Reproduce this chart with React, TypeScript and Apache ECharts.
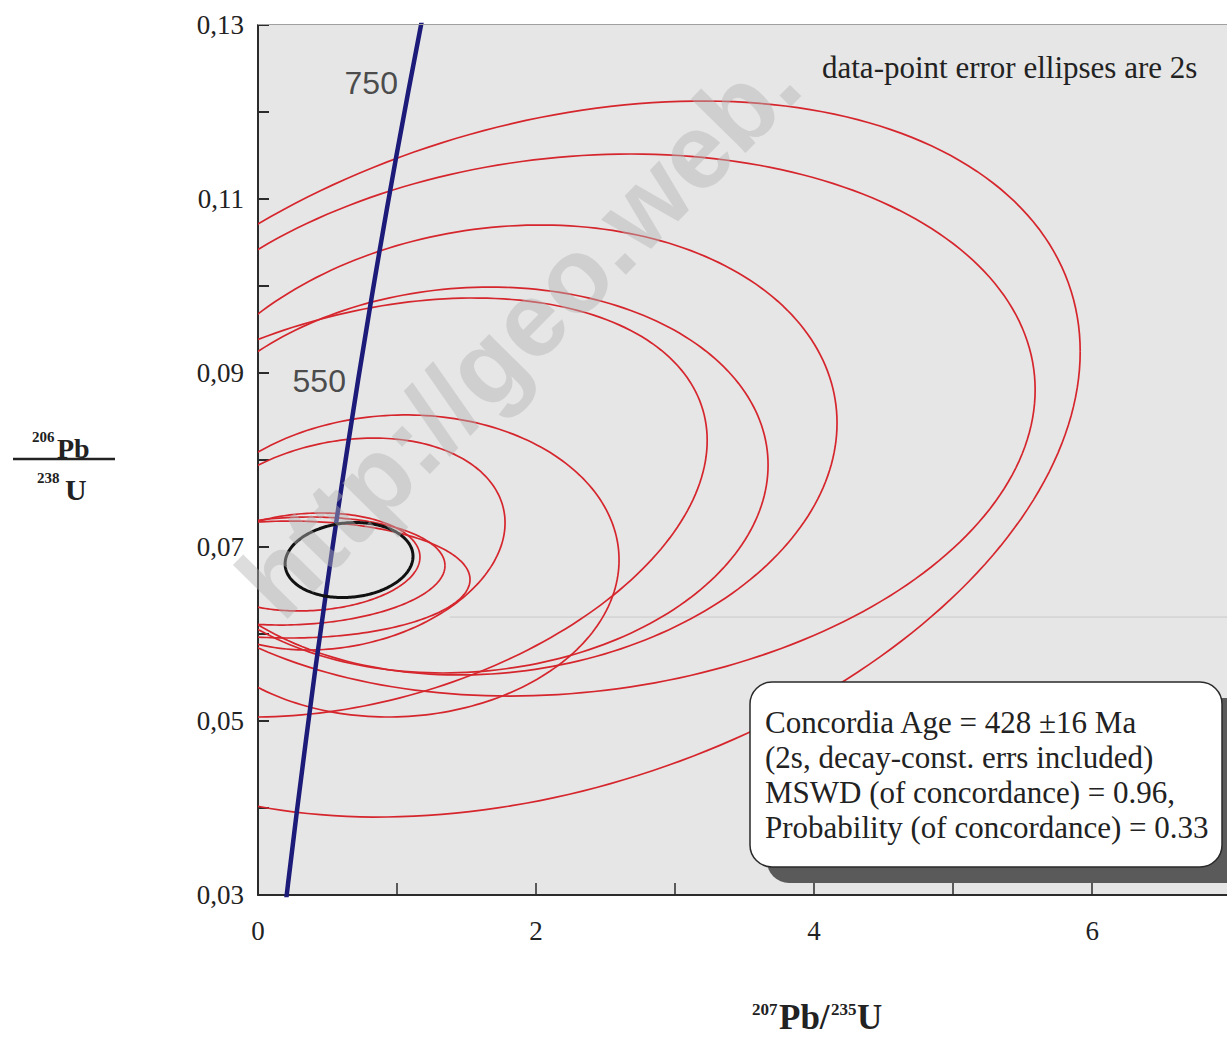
import React, { useEffect, useRef } from 'react';
import * as echarts from 'echarts';

// Concordia curve (Wetherill), points read at ages in Ma
const concordiaAgesMa = [150, 200, 300, 400, 500, 600, 700, 800];
const concordiaX = [0.1592, 0.2177, 0.34375, 0.4828, 0.63627, 0.80563, 0.99251, 1.19875];
const concordiaY = [0.023542, 0.031511, 0.047637, 0.064016, 0.08065, 0.097544, 0.114702, 0.132129];

// Age labels on the concordia
const ageLabels = ['550', '750'];
const ageLabelX = [0.71887, 1.09308];
const ageLabelY = [0.089064, 0.123382];

// Data-point error ellipses: [207Pb/235U, 206Pb/238U, half-width, half-height, rho]
const redEllipses = [
  [2.029, 0.08011, 3.885, 0.04115, 0.3],
  [2.245, 0.08402, 3.345, 0.03115, 0.13],
  [1.741, 0.08115, 2.424, 0.02586, 0.12],
  [1.5, 0.0777, 2.169, 0.02218, 0.078],
  [0.763, 0.07454, 2.468, 0.02408, 0.32],
  [1.0, 0.06782, 1.597, 0.01736, 0.04],
  [0.597, 0.07034, 1.18, 0.01218, 0.2],
  [0.374, 0.06828, 0.791, 0.00563, 0.1],
  [0.266, 0.06724, 1.079, 0.00621, 0.1],
  [0.23, 0.06626, 1.295, 0.00672, 0.0],
];
// Concordia age ellipse
const concordiaEllipse = [[0.655, 0.0685, 0.46, 0.00431, 0.1]];

// faint horizontal line in the figure
const faintLineX = [1.38, 6.97];
const faintLineY = [0.06195, 0.06195];

const yTickLabels = ['0,03', '0,05', '0,07', '0,09', '0,11', '0,13'];
const xTickLabels = ['0', '2', '4', '6'];

const statLines = [
  'Concordia Age = 428 \u00b116 Ma',
  '(2s, decay-const. errs included)',
  'MSWD (of concordance) = 0.96,',
  'Probability (of concordance) = 0.33',
];
const noteText = 'data-point error ellipses are 2s';
const watermarkText = 'http://geo.web.';

const SERIF = "'Liberation Serif', 'Times New Roman', serif";
const SANS = "'Liberation Sans', Arial, sans-serif";

const makeEllipseRenderer = (color: string, width: number) => (params: any, api: any) => {
  const cx = api.value(0);
  const cy = api.value(1);
  const sx = api.value(2);
  const sy = api.value(3);
  const rho = api.value(4);
  const q = Math.sqrt(1 - rho * rho);
  const points: number[][] = [];
  const n = 240;
  for (let i = 0; i <= n; i++) {
    const t = (i / n) * Math.PI * 2;
    points.push(api.coord([cx + sx * Math.cos(t), cy + sy * (rho * Math.cos(t) + q * Math.sin(t))]));
  }
  return {
    type: 'polyline',
    shape: { points },
    style: { stroke: color, lineWidth: width, fill: 'none' },
  };
};

export default function App() {
  const ref = useRef<HTMLDivElement>(null);
  useEffect(() => {
    const chart = echarts.init(ref.current as HTMLDivElement, undefined, { renderer: 'svg' });
    const option: any = {
      animation: false,
      backgroundColor: '#ffffff',
      grid: {
        left: 258,
        right: 0,
        top: 25,
        bottom: 144,
        show: true,
        backgroundColor: '#e6e6e6',
        borderWidth: 0,
      },
      xAxis: {
        type: 'value',
        min: 0,
        max: 6.97,
        interval: 1,
        axisLine: { show: true, onZero: false, lineStyle: { color: '#2b2b2b', width: 2 } },
        axisTick: { show: true, inside: true, length: 12, lineStyle: { color: '#2b2b2b', width: 1.5 } },
        splitLine: { show: false },
        axisLabel: {
          margin: 22,
          fontSize: 27,
          fontFamily: SERIF,
          color: '#222',
          showMaxLabel: false,
          formatter: (v: number) => (xTickLabels.includes(String(v)) ? String(v) : ''),
        },
      },
      yAxis: {
        type: 'value',
        min: 0.03,
        max: 0.13,
        interval: 0.01,
        axisLine: { show: true, onZero: false, lineStyle: { color: '#2b2b2b', width: 2 } },
        axisTick: { show: true, inside: true, length: 11, lineStyle: { color: '#2b2b2b', width: 2 } },
        splitLine: { show: false },
        axisLabel: {
          margin: 14,
          fontSize: 27,
          fontFamily: SERIF,
          color: '#222',
          formatter: (v: number) => {
            const s = '0,' + String(Math.round(v * 100)).padStart(2, '0');
            return yTickLabels.includes(s) ? s : '';
          },
        },
      },
      series: [
        {
          type: 'line',
          data: faintLineX.map((x, i) => [x, faintLineY[i]]),
          symbol: 'none',
          silent: true,
          lineStyle: { color: '#c9c9c9', width: 1 },
          z: 1,
        },
        {
          type: 'custom',
          clip: true,
          renderItem: makeEllipseRenderer('#d6262d', 1.7),
          data: redEllipses,
          encode: { x: 0, y: 1 },
          silent: true,
          z: 2,
        },
        {
          type: 'line',
          data: concordiaAgesMa.map((_, i) => [concordiaX[i], concordiaY[i]]),
          smooth: true,
          symbol: 'none',
          clip: true,
          silent: true,
          lineStyle: { color: '#1d1b79', width: 4.5 },
          z: 3,
        },
        {
          type: 'custom',
          clip: true,
          renderItem: makeEllipseRenderer('#111111', 3),
          data: concordiaEllipse,
          encode: { x: 0, y: 1 },
          silent: true,
          z: 4,
        },
        {
          type: 'scatter',
          data: ageLabels.map((_, i) => [ageLabelX[i], ageLabelY[i]]),
          symbolSize: 0,
          silent: true,
          label: {
            show: true,
            position: 'left',
            distance: 12,
            formatter: (p: any) => ageLabels[p.dataIndex],
            fontSize: 32,
            fontFamily: SANS,
            color: '#222',
          },
          z: 5,
        },
      ],
      graphic: [
        {
          type: 'line',
          z: 50,
          shape: { x1: 258, y1: 24.5, x2: 1227, y2: 24.5 },
          style: { stroke: '#a0a0a0', lineWidth: 1 },
        },
        {
          type: 'text',
          z: 50,
          x: 822,
          y: 67,
          style: { text: noteText, fontSize: 31, fontFamily: SERIF, fill: '#222', align: 'left', verticalAlign: 'middle' },
        },
        {
          type: 'rect',
          z: 60,
          shape: { x: 767, y: 698, width: 480, height: 185, r: 22 },
          style: { fill: '#5a5a5a' },
        },
        {
          type: 'rect',
          z: 61,
          shape: { x: 750, y: 682, width: 472, height: 185, r: 22 },
          style: { fill: '#ffffff', stroke: '#2a2a2a', lineWidth: 1.5 },
        },
        ...statLines.map((t, i) => ({
          type: 'text',
          z: 62,
          x: 765,
          y: 722 + i * 35.3,
          style: { text: t, fontSize: 31, fontFamily: SERIF, fill: '#222', align: 'left', verticalAlign: 'middle' },
        })),
        // y-axis title 206Pb / 238U
        {
          type: 'text', z: 50, x: 32, y: 437,
          style: { text: '206', fontSize: 15, fontWeight: 'bold', fontFamily: SERIF, fill: '#222', align: 'left', verticalAlign: 'middle' },
        },
        {
          type: 'text', z: 50, x: 57, y: 448,
          style: { text: 'Pb', fontSize: 28, fontWeight: 'bold', fontFamily: SERIF, fill: '#222', align: 'left', verticalAlign: 'middle' },
        },
        {
          type: 'line', z: 50,
          shape: { x1: 13, y1: 459, x2: 115, y2: 459 },
          style: { stroke: '#222', lineWidth: 2.5 },
        },
        {
          type: 'text', z: 50, x: 37, y: 478,
          style: { text: '238', fontSize: 15, fontWeight: 'bold', fontFamily: SERIF, fill: '#222', align: 'left', verticalAlign: 'middle' },
        },
        {
          type: 'text', z: 50, x: 65, y: 489,
          style: { text: 'U', fontSize: 30, fontWeight: 'bold', fontFamily: SERIF, fill: '#222', align: 'left', verticalAlign: 'middle' },
        },
        // x-axis title 207Pb/235U
        {
          type: 'text', z: 50, x: 752, y: 1009,
          style: { text: '207', fontSize: 17, fontWeight: 'bold', fontFamily: SERIF, fill: '#222', align: 'left', verticalAlign: 'middle' },
        },
        {
          type: 'text', z: 50, x: 779, y: 1017,
          style: { text: 'Pb/', fontSize: 35, fontWeight: 'bold', fontFamily: SERIF, fill: '#222', align: 'left', verticalAlign: 'middle' },
        },
        {
          type: 'text', z: 50, x: 831, y: 1009,
          style: { text: '235', fontSize: 17, fontWeight: 'bold', fontFamily: SERIF, fill: '#222', align: 'left', verticalAlign: 'middle' },
        },
        {
          type: 'text', z: 50, x: 857, y: 1017,
          style: { text: 'U', fontSize: 35, fontWeight: 'bold', fontFamily: SERIF, fill: '#222', align: 'left', verticalAlign: 'middle' },
        },
        // watermark
        {
          type: 'text', z: 200, x: 256, y: 598, rotation: 0.794,
          style: {
            text: watermarkText, fontSize: 106, fontWeight: 'bold', fontFamily: SANS,
            fill: 'rgba(180,180,180,0.45)', align: 'left', verticalAlign: 'middle',
          },
        },
      ],
    };
    chart.setOption(option);
    return () => chart.dispose();
  }, []);
  return (
    <div
      ref={ref}
      style={{ position: 'absolute', left: 0, top: 0, width: 1227, height: 1039, background: '#fff' }}
    />
  );
}
